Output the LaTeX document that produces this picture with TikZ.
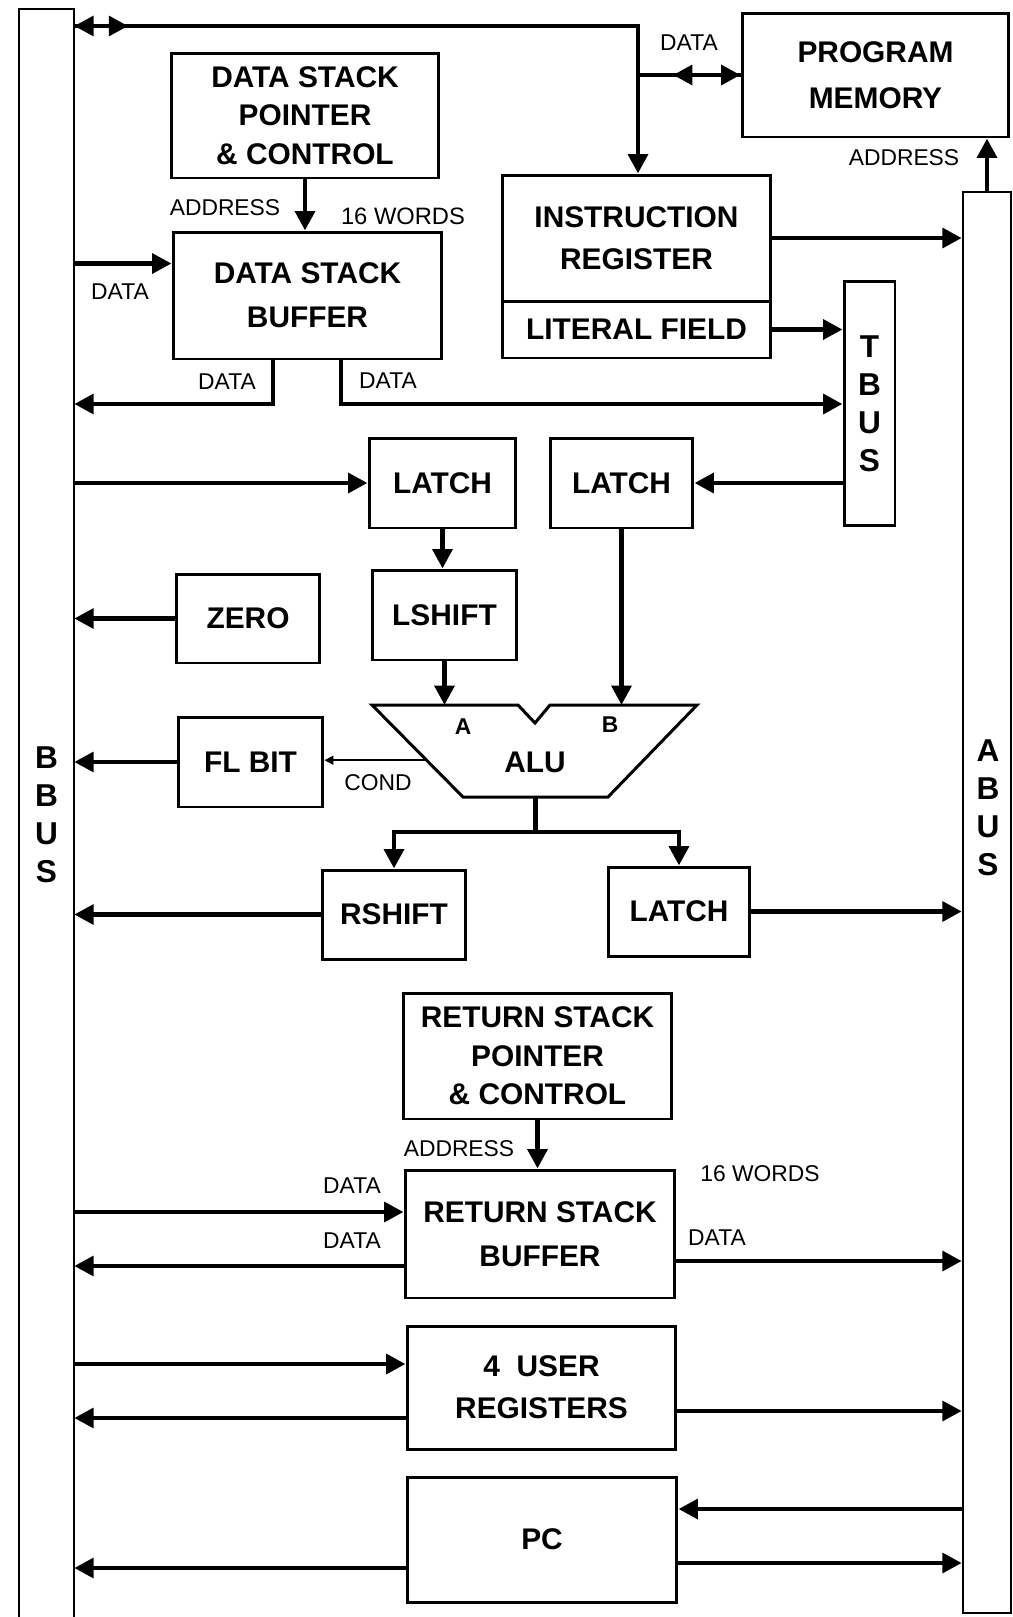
\documentclass[tikz,border=0pt]{standalone}
\usepackage{fontspec}
\setmainfont{Liberation Sans}
\usetikzlibrary{arrows.meta,positioning,calc}

\begin{document}
\begin{tikzpicture}[x=0.02cm,y=-0.02cm,>={Triangle[length=11pt,width=11pt]},
  blk/.style={draw,line width=1.7pt,align=center,inner sep=0pt,font=\bfseries\fontsize{17}{24}\selectfont},
  busbox/.style={line width=1.4pt,inner sep=0pt,align=center,font=\bfseries\fontsize{18}{21.7}\selectfont},
  conn/.style={line width=2.8pt},
  condline/.style={line width=0.9pt,-{Triangle[length=5pt,width=5pt]}},
  lbl/.style={inner sep=0pt,font=\fontsize{13}{15}\selectfont}]
\path[fill=white,use as bounding box] (0,0) rectangle (1013,1617);

% buses
\node[busbox,minimum width=10.6mm,minimum height=322mm] (bbus) at (46.5,815) {B\\B\\U\\S};
\draw[line width=1.4pt] (bbus.south west) -- (bbus.north west) -- (bbus.north east) -- (bbus.south east);
\node[busbox,draw,minimum width=9.6mm,minimum height=284.2mm] (abus) at (987,902.5) {};
\node[busbox] (abusl) at (988,808) {A\\B\\U\\S};
\node[busbox,draw,line width=1.7pt,minimum width=10.2mm,minimum height=49mm] (tbus) at (869.5,403.5) {T\\B\\U\\S};

% data stack, program memory, instruction register
\node[blk,minimum width=53.6mm,minimum height=25mm,font=\bfseries\fontsize{17}{22}\selectfont] (dsp) at (305,115.5) {DATA STACK\\POINTER\\\& CONTROL};
\node[blk,minimum width=53.8mm,minimum height=25.4mm,font=\bfseries\fontsize{17}{25}\selectfont] (dsb) at (307.5,295.5) {DATA STACK\\BUFFER};
\node[blk,minimum width=53.4mm,minimum height=24.8mm,font=\bfseries\fontsize{17}{26}\selectfont] (pm) at (875.5,75) {PROGRAM\\MEMORY};
\node[blk,minimum width=53.8mm,minimum height=25.2mm] (ir) at (636.5,238) {INSTRUCTION\\REGISTER};
\node[blk,minimum width=53.8mm,minimum height=11.4mm] (lit) at (636.5,329.5) {LITERAL FIELD};

% alu section
\node[blk,minimum width=29.4mm,minimum height=18mm] (latchl) at (442.5,483) {LATCH};
\node[blk,minimum width=28.6mm,minimum height=18mm] (latchr) at (621.5,483) {LATCH};
\node[blk,minimum width=29mm,minimum height=18mm] (lshift) at (444.5,615) {LSHIFT};
\node[blk,minimum width=28.8mm,minimum height=17.8mm] (zero) at (248,618.5) {ZERO};
\node[blk,minimum width=29mm,minimum height=18mm] (flbit) at (250.5,762) {FL BIT};
\node[blk,minimum width=28.8mm,minimum height=17.8mm] (rshift) at (394,914.5) {RSHIFT};
\node[blk,minimum width=28.4mm,minimum height=17.8mm] (latcho) at (679,911.5) {LATCH};

\coordinate (alu1) at (372,705);
\coordinate (alu2) at (697,705);
\coordinate (alu3) at (608,797);
\coordinate (alu4) at (463,797);
\draw[line width=1.7pt] (alu1) -- (518,705) -- (535,723) -- (550,705) -- (alu2) -- (alu3) -- (alu4) -- cycle;
\node[font=\bfseries\fontsize{17}{20}\selectfont] (alu) at (535,762) {ALU};
\node[inner sep=0pt,font=\bfseries\fontsize{13}{15}\selectfont] (ina) at (463,727) {A};
\node[inner sep=0pt,font=\bfseries\fontsize{13}{15}\selectfont] (inb) at (610,725) {B};

% return stack, registers, pc
\node[blk,minimum width=53.8mm,minimum height=25.2mm,font=\bfseries\fontsize{17}{22}\selectfont] (rsp) at (537.5,1056) {RETURN STACK\\POINTER\\\& CONTROL};
\node[blk,minimum width=54mm,minimum height=25.6mm,font=\bfseries\fontsize{17}{25}\selectfont] (rsb) at (540,1234) {RETURN STACK\\BUFFER};
\node[blk,minimum width=53.8mm,minimum height=24.6mm] (usr) at (541.5,1387.5) {4\ \ USER\\REGISTERS};
\node[blk,minimum width=54mm,minimum height=25mm] (pc) at (542,1539.5) {PC};

% connectors, top
\coordinate (jn) at (638,26);
\coordinate (pmj) at (jn |- pm.west);
\coordinate (pmd) at ($(pmj)+(35,0)$);
\draw[conn,->] (bbus.east |- jn) -- (jn) -- (jn |- ir.north);
\draw[conn,<->] (bbus.east |- jn) -- ++(54,0);
\draw[conn] (pmj) -- (pm.west);
\draw[conn,<->] (pmd) -- (pm.west);
\draw[conn,->] (abus.north) -- (abus.north |- pm.south);
\draw[conn,->] (dsp.south) -- (dsp.south |- dsb.north);
\coordinate (dsbin) at ([yshift=6.4mm]dsb.west);
\draw[conn,->] (dsbin -| bbus.east) -- (dsbin);
\draw[conn,->] ([xshift=-6.9mm]dsb.south) |- (bbus.east |- 0,404);
\draw[conn,->] ([xshift=6.7mm]dsb.south) |- (tbus.west |- 0,404);
\draw[conn,->] (ir.east) -- (ir.east -| abus.west);
\draw[conn,->] (lit.east) -- (lit.east -| tbus.west);

% connectors, alu
\draw[conn,->] (latchl.west -| bbus.east) -- (latchl.west);
\draw[conn,->] (latchr.east -| tbus.west) -- (latchr.east);
\draw[conn,->] (latchl.south) -- (latchl.south |- lshift.north);
\draw[conn,->] (lshift.south) -- (lshift.south |- alu1);
\draw[conn,->] (latchr.south) -- (latchr.south |- alu2);
\draw[conn,->] (zero.west) -- (zero.west -| bbus.east);
\coordinate (cnd) at ($(alu1)!0.6!(alu4)$);
\draw[condline] (cnd) -- (cnd -| flbit.east);
\draw[conn,->] (flbit.west) -- (flbit.west -| bbus.east);
\coordinate (aluo) at ($(alu4)!0.5!(alu3)$);
\draw[conn,->] (aluo) -- ++(0,35) -| (rshift.north);
\draw[conn,->] (aluo) -- ++(0,35) -| (latcho.north);
\draw[conn,->] (rshift.west) -- (rshift.west -| bbus.east);
\draw[conn,->] (latcho.east) -- (latcho.east -| abus.west);

% connectors, bottom
\draw[conn,->] (rsp.south) -- (rsp.south |- rsb.north);
\coordinate (rsbin) at ([yshift=4.4mm]rsb.west);
\coordinate (rsbout) at ([yshift=-6.4mm]rsb.west);
\coordinate (rsbab) at ([yshift=-5.4mm]rsb.east);
\draw[conn,->] (rsbin -| bbus.east) -- (rsbin);
\draw[conn,->] (rsbout) -- (rsbout -| bbus.east);
\draw[conn,->] (rsbab) -- (rsbab -| abus.west);
\coordinate (usrin) at ([yshift=4.7mm]usr.west);
\coordinate (usrout) at ([yshift=-6.1mm]usr.west);
\coordinate (usrab) at ([yshift=-4.7mm]usr.east);
\draw[conn,->] (usrin -| bbus.east) -- (usrin);
\draw[conn,->] (usrout) -- (usrout -| bbus.east);
\draw[conn,->] (usrab) -- (usrab -| abus.west);
\coordinate (pcin) at ([yshift=6.1mm]pc.east);
\coordinate (pcab) at ([yshift=-4.7mm]pc.east);
\coordinate (pcout) at ([yshift=-5.7mm]pc.west);
\draw[conn,->] (pcin -| abus.west) -- (pcin);
\draw[conn,->] (pcab) -- (pcab -| abus.west);
\draw[conn,->] (pcout) -- (pcout -| bbus.east);

% labels
\node[lbl] (pmdata) at (689,43) {DATA};
\node[lbl] (pmaddr) at (904,158) {ADDRESS};
\node[lbl] (dsaddr) at (225,208) {ADDRESS};
\node[lbl,font=\fontsize{13.5}{15}\selectfont] (dswords) at (403,216) {16 WORDS};
\node[lbl] (dsdin) at (120,292) {DATA};
\node[lbl] (dsdl) at (227,382) {DATA};
\node[lbl] (dsdr) at (388,381) {DATA};
\node[lbl] (cond) at (378,783) {COND};
\node[lbl] (rsaddr) at (459,1149) {ADDRESS};
\node[lbl] (rswords) at (760,1174) {16 WORDS};
\node[lbl] (rsdin) at (352,1186) {DATA};
\node[lbl] (rsdout) at (352,1241) {DATA};
\node[lbl] (rsdab) at (717,1238) {DATA};
\end{tikzpicture}
\end{document}
